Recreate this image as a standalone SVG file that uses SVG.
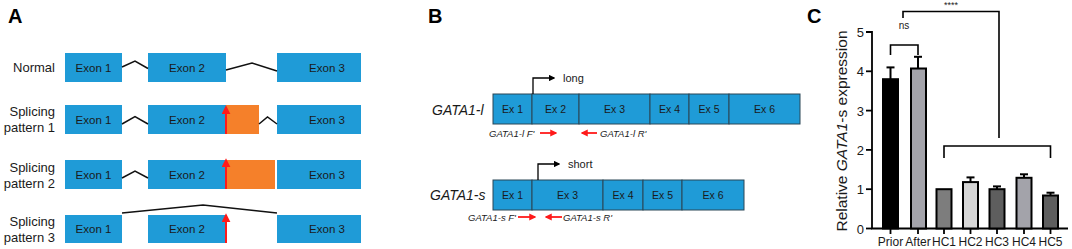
<svg xmlns="http://www.w3.org/2000/svg" width="1072" height="249" viewBox="0 0 1072 249">
<style>
text{font-family:"Liberation Sans",Arial,sans-serif;fill:#1a1a1a}
.pl{font-size:20px;font-weight:bold;fill:#000}
.lab{font-size:13px;text-anchor:end}
.ex{font-size:11.5px;text-anchor:middle}
.exA{fill:#1f9bd7}
.orange{fill:#f5802a}
.intron{fill:none;stroke:#111;stroke-width:1.5}
.mut{stroke:#ff1a1a;stroke-width:2}
.exB{fill:#1f9bd7;stroke:#2a4656;stroke-width:1}
.exb{font-size:10.5px;text-anchor:middle}
.iso{font-size:14px;font-style:italic}
.prim{font-size:9.5px;font-style:italic}
.parr{stroke:#ff1a1a;stroke-width:1.8}
.tss{fill:none;stroke:#000;stroke-width:1.3}
.ax{fill:none;stroke:#000;stroke-width:1.8}
.bar{stroke:#000;stroke-width:2}
.tick{font-size:13px;text-anchor:end}
.xl{font-size:12px;text-anchor:middle}
.br{fill:none;stroke:#000;stroke-width:1.6}
</style>
<defs>
<marker id="redhead" viewBox="0 0 10 10" refX="8" refY="5" markerWidth="4" markerHeight="4" orient="auto"><path d="M0,0 L10,5 L0,10 z" fill="#ff1a1a"/></marker>
<marker id="redhead2" viewBox="0 0 10 10" refX="8" refY="5" markerWidth="4.5" markerHeight="4.5" orient="auto"><path d="M0,0 L10,5 L0,10 z" fill="#ff1a1a"/></marker>
<marker id="blackhead" viewBox="0 0 10 10" refX="8" refY="5" markerWidth="5" markerHeight="5" orient="auto"><path d="M0,0 L10,5 L0,10 z" fill="#000"/></marker>
</defs>

<!-- Panel A -->
<g id="panelA">
<text class="pl" x="8" y="23">A</text>
<g id="row-normal">
<text class="lab" x="55" y="72">Normal</text>
<rect class="exA" x="65" y="53" width="57" height="29"/><text class="ex" x="93.5" y="71.5">Exon 1</text>
<rect class="exA" x="148" y="53" width="78" height="29"/><text class="ex" x="187" y="71.5">Exon 2</text>
<rect class="exA" x="277" y="53" width="84" height="29"/><text class="ex" x="327" y="71.5">Exon 3</text>
</g>
<g id="row-p1">
<text class="lab" x="55" y="116">Splicing</text><text class="lab" x="55" y="132">pattern 1</text>
<rect class="exA" x="65" y="105" width="57" height="29"/><text class="ex" x="93.5" y="123.5">Exon 1</text>
<rect class="exA" x="148" y="105" width="78" height="29"/><text class="ex" x="187" y="123.5">Exon 2</text>
<rect class="orange" x="226" y="105" width="33" height="29"/>
<rect class="exA" x="277" y="105" width="84" height="29"/><text class="ex" x="327" y="123.5">Exon 3</text>
</g>
<g id="row-p2">
<text class="lab" x="55" y="171.5">Splicing</text><text class="lab" x="55" y="187.5">pattern 2</text>
<rect class="exA" x="65" y="160" width="57" height="29"/><text class="ex" x="93.5" y="178.5">Exon 1</text>
<rect class="exA" x="148" y="160" width="78" height="29"/><text class="ex" x="187" y="178.5">Exon 2</text>
<rect class="orange" x="226" y="160" width="49" height="29"/>
<rect class="exA" x="277" y="160" width="84" height="29"/><text class="ex" x="327" y="178.5">Exon 3</text>
</g>
<g id="row-p3">
<text class="lab" x="55" y="226">Splicing</text><text class="lab" x="55" y="242">pattern 3</text>
<rect class="exA" x="65" y="215" width="57" height="28"/><text class="ex" x="93.5" y="233">Exon 1</text>
<rect class="exA" x="148" y="215" width="78" height="28"/><text class="ex" x="187" y="233">Exon 2</text>
<rect class="exA" x="277" y="215" width="84" height="28"/><text class="ex" x="327" y="233">Exon 3</text>
</g>
</g>
<g id="connectorsA">
<polyline class="intron" points="122,67 135,61 148,68.5"/>
<polyline class="intron" points="226,70 252,63 277,71"/>
<polyline class="intron" points="122,124 135,116.5 148,124"/>
<polyline class="intron" points="259,124 267.5,117 277,124"/>
<polyline class="intron" points="122,178 135,171 148,178"/>
<polyline class="intron" points="122,213 203,205 277,213"/>
<line class="mut" x1="226" y1="134" x2="226" y2="107" marker-end="url(#redhead2)"/>
<line class="mut" x1="226" y1="189" x2="226" y2="160" marker-end="url(#redhead2)"/>
<line class="mut" x1="226" y1="243" x2="226" y2="215" marker-end="url(#redhead2)"/>
</g>

<!-- Panel B -->
<g id="panelB">
<text class="pl" x="428" y="23">B</text>
<g id="gata1-l">
<text class="iso" x="432" y="115">GATA1-l</text>
<rect class="exB" x="493" y="94" width="39" height="30"/><text class="exb" x="512.5" y="113">Ex 1</text>
<rect class="exB" x="532" y="94" width="47" height="30"/><text class="exb" x="555.5" y="113">Ex 2</text>
<rect class="exB" x="579" y="94" width="71" height="30"/><text class="exb" x="614.5" y="113">Ex 3</text>
<rect class="exB" x="650" y="94" width="39" height="30"/><text class="exb" x="669.5" y="113">Ex 4</text>
<rect class="exB" x="689" y="94" width="40" height="30"/><text class="exb" x="709" y="113">Ex 5</text>
<rect class="exB" x="729" y="94" width="71" height="30"/><text class="exb" x="764.5" y="113">Ex 6</text>
<text x="563" y="82" style="font-size:11px">long</text>
<text class="prim" x="489" y="136.5">GATA1-l F'</text>
<text class="prim" x="600" y="136.5">GATA1-l R'</text>
</g>
<g id="gata1-s">
<text class="iso" x="430" y="200">GATA1-s</text>
<rect class="exB" x="493" y="180" width="39" height="30"/><text class="exb" x="512.5" y="199">Ex 1</text>
<rect class="exB" x="532" y="180" width="71" height="30"/><text class="exb" x="567.5" y="199">Ex 3</text>
<rect class="exB" x="603" y="180" width="40" height="30"/><text class="exb" x="623" y="199">Ex 4</text>
<rect class="exB" x="643" y="180" width="39" height="30"/><text class="exb" x="662.5" y="199">Ex 5</text>
<rect class="exB" x="682" y="180" width="62" height="30"/><text class="exb" x="713" y="199">Ex 6</text>
<text x="568" y="168" style="font-size:11px">short</text>
<text class="prim" x="468" y="220.5">GATA1-s F'</text>
<text class="prim" x="563" y="220.5">GATA1-s R'</text>
</g>
</g>
<g id="connectorsB">
<polyline class="tss" points="533,94 533,78 554,78" marker-end="url(#blackhead)"/>
<polyline class="tss" points="538,180 538,164 559,164" marker-end="url(#blackhead)"/>
<line class="parr" x1="540" y1="133" x2="556" y2="133" marker-end="url(#redhead)"/>
<line class="parr" x1="597" y1="133" x2="582" y2="133" marker-end="url(#redhead)"/>
<line class="parr" x1="518" y1="217" x2="535" y2="217" marker-end="url(#redhead)"/>
<line class="parr" x1="562" y1="217" x2="546" y2="217" marker-end="url(#redhead)"/>
</g>

<!-- Panel C -->
<g id="panelC">
<text class="pl" x="807" y="23">C</text>
<text transform="translate(847,131) rotate(-90)" style="font-size:15.5px;text-anchor:middle">Relative <tspan font-style="italic">GATA1</tspan>-s expression</text>
<g id="axes">
<polyline class="ax" points="866,32 872,32 872,228.5 1068,228.5"/>
<line class="ax" x1="866" y1="71.3" x2="872" y2="71.3"/>
<line class="ax" x1="866" y1="110.6" x2="872" y2="110.6"/>
<line class="ax" x1="866" y1="149.9" x2="872" y2="149.9"/>
<line class="ax" x1="866" y1="189.2" x2="872" y2="189.2"/>
<line class="ax" x1="866" y1="228.5" x2="872" y2="228.5"/>
<text class="tick" x="864" y="37">5</text>
<text class="tick" x="864" y="76">4</text>
<text class="tick" x="864" y="115.5">3</text>
<text class="tick" x="864" y="155">2</text>
<text class="tick" x="864" y="194">1</text>
<text class="tick" x="864" y="233.5">0</text>
<line class="ax" x1="890.5" y1="228.5" x2="890.5" y2="234"/>
<line class="ax" x1="918" y1="228.5" x2="918" y2="234"/>
<line class="ax" x1="944" y1="228.5" x2="944" y2="234"/>
<line class="ax" x1="970.5" y1="228.5" x2="970.5" y2="234"/>
<line class="ax" x1="997" y1="228.5" x2="997" y2="234"/>
<line class="ax" x1="1024" y1="228.5" x2="1024" y2="234"/>
<line class="ax" x1="1050.5" y1="228.5" x2="1050.5" y2="234"/>
<text class="xl" x="890.5" y="246">Prior</text>
<text class="xl" x="918" y="246">After</text>
<text class="xl" x="944" y="246">HC1</text>
<text class="xl" x="970.5" y="246">HC2</text>
<text class="xl" x="997" y="246">HC3</text>
<text class="xl" x="1024" y="246">HC4</text>
<text class="xl" x="1050.5" y="246">HC5</text>
</g>
<g id="bars">
<line class="bar" x1="890.5" y1="79" x2="890.5" y2="67.4"/><line class="bar" x1="886.5" y1="67.4" x2="894.5" y2="67.4"/>
<rect class="bar" x="883" y="79.2" width="15" height="149.3" fill="#000"/>
<line class="bar" x1="918" y1="68" x2="918" y2="56.8"/><line class="bar" x1="914" y1="56.8" x2="922" y2="56.8"/>
<rect class="bar" x="911" y="68.5" width="15" height="160" fill="#a3a3aa"/>
<rect class="bar" x="936.5" y="189.2" width="15" height="39.3" fill="#7d7d7d"/>
<line class="bar" x1="970.5" y1="182" x2="970.5" y2="177.4"/><line class="bar" x1="966.5" y1="177.4" x2="974.5" y2="177.4"/>
<rect class="bar" x="963" y="182.1" width="15" height="46.4" fill="#d6d6d6"/>
<line class="bar" x1="997" y1="189" x2="997" y2="186.4"/><line class="bar" x1="993" y1="186.4" x2="1001" y2="186.4"/>
<rect class="bar" x="989.5" y="189.2" width="15" height="39.3" fill="#5e5e5e"/>
<line class="bar" x1="1024" y1="177.6" x2="1024" y2="174.3"/><line class="bar" x1="1020" y1="174.3" x2="1028" y2="174.3"/>
<rect class="bar" x="1016.5" y="177.8" width="15" height="50.7" fill="#a3a3aa"/>
<line class="bar" x1="1050.5" y1="195.3" x2="1050.5" y2="192.7"/><line class="bar" x1="1046.5" y1="192.7" x2="1054.5" y2="192.7"/>
<rect class="bar" x="1043" y="195.5" width="15" height="33" fill="#5e5e5e"/>
</g>
<g id="brackets">
<polyline class="br" points="890.5,55 890.5,45 918,45 918,55"/>
<text x="904" y="29" style="font-size:10px;text-anchor:middle">ns</text>
<polyline class="br" points="903,18 903,11.5 999,11.5 999,138"/>
<polyline class="br" points="944,158 944,146 1050.5,146 1050.5,158"/>
<text x="951" y="8" style="font-size:9px;text-anchor:middle">****</text>
</g>
</g>
</svg>
